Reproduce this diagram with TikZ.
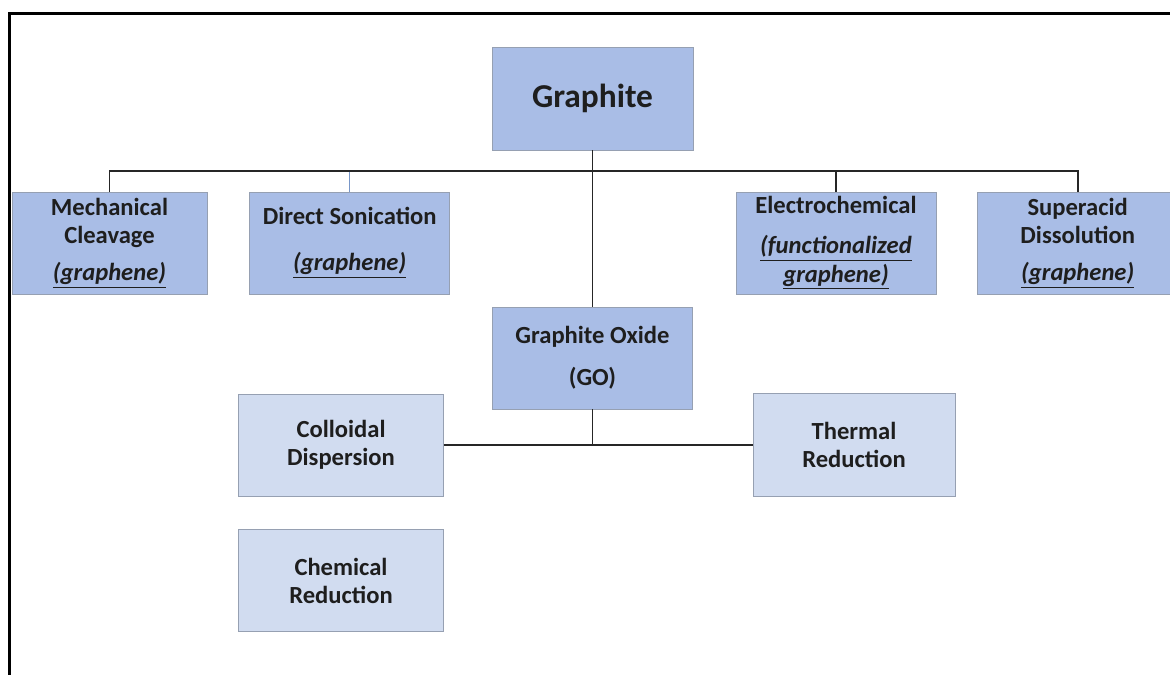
\documentclass[tikz,border=0pt]{standalone}
\usepackage{fontspec}
\setmainfont{Carlito}
\usetikzlibrary{positioning}
\definecolor{azulgrafito}{RGB}{169,189,230}
\definecolor{azulclaro}{RGB}{209,220,240}
\definecolor{bordegris}{RGB}{150,160,178}
\definecolor{textooscuro}{RGB}{30,30,30}
\definecolor{lineafina}{RGB}{120,150,200}
\newcommand{\subrayado}[1]{\underline{\textit{#1}}}

\begin{document}
\begin{tikzpicture}[
        metodo/.style={
            rectangle,
            minimum width=4cm,
            minimum height=2.04cm,
            align=center,
            fill=azulgrafito,
            draw=bordegris,
            text=textooscuro,
            font=\fontsize{14}{16}\selectfont\bfseries,
            inner sep=1pt
        },
        proceso/.style={
            metodo,
            minimum width=4.1cm,
            fill=azulclaro
        },
        rama/.style={line width=1.1pt, draw=black!85},
        ramafina/.style={line width=0.6pt, draw=lineafina},
        marco/.style={line width=1.7pt, draw=black}
    ]
        \useasboundingbox (0,0) rectangle (23.4,-13.5);
        \draw[marco] (23.4,-0.27) -- (0.19,-0.27) -- (0.19,-13.5);

        \node[metodo, minimum width=4.02cm, minimum height=2.06cm,
              font=\fontsize{19}{22}\selectfont\bfseries] (graphite) at (11.85,-1.97) {Graphite};

        \node[metodo, minimum width=3.9cm] (mech) at (2.19,-4.86) {
            Mechanical\\Cleavage\\[5pt]\subrayado{(graphene)}
        };
        \node[metodo, right=0.84cm of mech] (sonic) {
            Direct Sonication\\[10pt]\subrayado{(graphene)}
        };
        \node[metodo] (electro) at (16.72,-4.86) {
            Electrochemical\\[7pt]\subrayado{(functionalized}\\\subrayado{graphene)}
        };
        \node[metodo, right=0.82cm of electro] (super) {
            Superacid\\Dissolution\\[5pt]\subrayado{(graphene)}
        };

        \node[metodo] (go) at (11.85,-7.16) {
            Graphite Oxide\\[8pt](GO)
        };

        \node[proceso] (colloid) at (6.82,-8.9) {Colloidal\\Dispersion};
        \node[proceso, minimum width=4.04cm, minimum height=2.06cm] (thermal) at (17.08,-8.9) {Thermal\\Reduction};
        \node[proceso, below=0.66cm of colloid] (chemical) {Chemical\\Reduction};

        % ramas desde el grafito
        \coordinate (bus) at ([yshift=-0.42cm]graphite.south);
        \draw[ramafina] (sonic.north) -- (sonic.north |- bus);
        \draw[rama] (mech.north) |- (bus) -| (super.north);
        \draw[rama] (electro.north) -- (electro.north |- bus);
        \draw[rama] (graphite.south) -- (go.north);

        % ramas desde el GO
        \coordinate (gobus) at (go.south |- colloid.east);
        \draw[rama] (go.south) -- (gobus);
        \draw[rama] (colloid.east) -- (thermal.west);
    \end{tikzpicture}
\end{document}
